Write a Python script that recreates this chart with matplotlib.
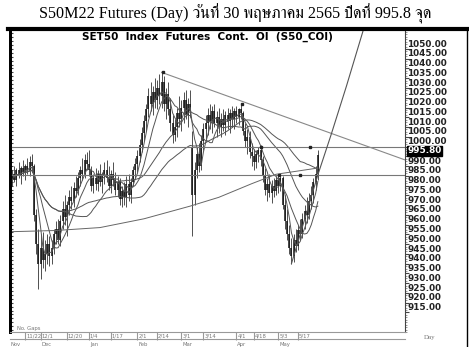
import matplotlib
matplotlib.use('Agg')
import matplotlib.pyplot as plt
from matplotlib import font_manager
from matplotlib.ft2font import FT2Font
from matplotlib.lines import Line2D
import numpy as np
import pandas as pd

# daily bars, S50 continuous futures, Nov 2021 - 30 May 2022
opens = [984, 986, 983, 988, 985, 989, 987, 990, 988, 992,
         990, 965, 950, 940, 948, 942, 945, 950, 944, 948,
         955, 958, 952, 962, 968, 964, 970, 974, 972, 979,
         977, 984, 988, 986, 993, 991, 988, 980, 984, 981,
         986, 982, 985, 988, 984, 980, 986, 983, 978, 982,
         973, 977, 974, 981, 975, 982, 988, 991, 995, 1001,
         1007, 1013, 1019, 1026, 1022, 1028, 1024, 1030, 1026, 1033,
         1022, 1027, 1019, 1012, 1006, 1010, 1017, 1014, 1020, 1024,
         1016, 1022, 1000, 975, 988, 996, 990, 1003, 1009, 1012,
         1016, 1013, 1018, 1012, 1015, 1010, 1014, 1011, 1016, 1013,
         1017, 1014, 1018, 1015, 1019, 1017, 1008, 1003, 1005, 997,
         995, 992, 996, 998, 993, 985, 978, 981, 976, 980,
         977, 983, 980, 984, 970, 962, 955, 948, 944, 952,
         949, 957, 955, 963, 967, 965, 972, 975, 982, 986]
highs = [988, 990, 989, 992, 990, 993, 991, 994, 995, 996,
         991, 968, 958, 955, 956, 952, 955, 954, 952, 958,
         962, 963, 965, 972, 975, 972, 978, 980, 982, 985,
         987, 990, 994, 996, 997, 998, 990, 986, 989, 988,
         991, 987, 992, 993, 990, 988, 992, 987, 985, 984,
         980, 982, 985, 986, 984, 990, 994, 998, 1004, 1010,
         1016, 1022, 1030, 1033, 1031, 1035, 1034, 1037, 1038, 1036,
         1030, 1033, 1025, 1016, 1014, 1020, 1026, 1024, 1028, 1029,
         1025, 1029, 1008, 992, 1000, 1002, 1006, 1012, 1016, 1020,
         1022, 1021, 1022, 1018, 1020, 1017, 1019, 1018, 1020, 1019,
         1021, 1020, 1021, 1020, 1022, 1018, 1012, 1009, 1008, 1002,
         999, 998, 1000, 1001, 995, 989, 984, 986, 983, 984,
         985, 986, 986, 985, 975, 968, 960, 953, 955, 958,
         960, 963, 966, 970, 974, 976, 980, 984, 990, 998]
lows = [980, 982, 980, 984, 981, 985, 983, 986, 985, 987,
        962, 945, 927, 932, 938, 936, 940, 939, 940, 945,
        950, 950, 949, 958, 960, 954, 965, 968, 969, 974,
        975, 980, 983, 984, 988, 985, 977, 976, 978, 977,
        980, 976, 981, 982, 978, 976, 980, 975, 974, 970,
        969, 970, 969, 972, 971, 980, 984, 987, 992, 997,
        1003, 1008, 1015, 1018, 1016, 1020, 1019, 1022, 1020, 1018,
        1014, 1016, 1008, 1002, 1003, 1005, 1010, 1008, 1012, 1014,
        1010, 1015, 954, 970, 984, 987, 988, 998, 1003, 1006,
        1009, 1007, 1010, 1005, 1007, 1005, 1008, 1006, 1009, 1007,
        1010, 1009, 1012, 1011, 1014, 1006, 1000, 996, 994, 990,
        988, 989, 992, 990, 982, 975, 972, 974, 971, 974,
        975, 976, 977, 968, 958, 952, 945, 940, 941, 946,
        947, 952, 953, 958, 961, 963, 968, 971, 978, 983]
closes = [986, 983, 988, 985, 989, 987, 990, 988, 992, 990,
          965, 950, 940, 948, 942, 945, 950, 944, 948, 955,
          958, 952, 962, 968, 964, 970, 974, 972, 979, 977,
          984, 988, 986, 993, 991, 988, 980, 984, 981, 986,
          982, 985, 988, 984, 980, 986, 983, 978, 982, 973,
          977, 974, 981, 975, 982, 988, 991, 995, 1001, 1007,
          1013, 1019, 1026, 1022, 1028, 1024, 1030, 1026, 1033, 1022,
          1027, 1019, 1012, 1006, 1010, 1017, 1014, 1020, 1024, 1016,
          1022, 1018, 975, 988, 996, 990, 1003, 1009, 1012, 1016,
          1013, 1018, 1012, 1015, 1010, 1014, 1011, 1016, 1013, 1017,
          1014, 1018, 1015, 1019, 1017, 1008, 1003, 1005, 997, 995,
          992, 996, 998, 993, 985, 978, 981, 976, 980, 977,
          983, 980, 984, 970, 962, 955, 948, 944, 952, 949,
          957, 955, 963, 967, 965, 972, 975, 982, 986, 995.8]

# long moving average (needs history before the window)
long_ma_idx = [0, 20, 40, 60, 81, 94, 109, 120, 139]
long_ma_val = [956.4, 957, 958.5, 963, 969.5, 974, 981, 985.8, 989]

# drawn lines
trend_idx = [68, 179]
trend_val = [1038, 993]
curve_idx = [127, 139, 145, 152, 160]
curve_val = [940, 985.5, 1006, 1031, 1061]
hlines = [1000, 985.6]
dot_idx = [68.5, 104.5, 113, 121.4, 131, 135.5]
dot_val = [1038, 1022, 1000, 985.6, 985.6, 1000]

date_idx = [6, 13, 25, 35, 45, 57, 66, 77, 87, 102, 110, 121, 130]
date_lbl = ['11/22', '12/1', '12/20', '1/4', '1/17', '2/1', '2/14', '3/1',
            '3/14', '4/1', '4/18', '5/3', '5/17']
month_idx = [-1, 13, 35, 57, 77, 102, 121]
month_lbl = ['Nov', 'Dec', 'Jan', 'Feb', 'Mar', 'Apr', 'May']
ytick_vals = list(range(915, 1051, 5))
last_close = 995.8


def find_thai_font():
    found = []
    for f in font_manager.fontManager.ttflist:
        try:
            if 0x0E27 in FT2Font(f.fname).get_charmap():
                found.append(f.name)
        except Exception:
            pass
    serif = [n for n in found if 'Serif' in n]
    return (serif + found)[:1]


W, H = 469, 347
fig = plt.figure(figsize=(W / 100, H / 100), dpi=100)
ax = fig.add_axes([10 / W, 1 - 332 / H, 395 / W, 301 / H])

idx = np.arange(len(closes))
o = np.array(opens)
c = np.array(closes)
ax.vlines(idx, lows, highs, color='#333333', lw=0.6)
ax.vlines(idx, np.minimum(o, c), np.maximum(o, c), color='#111111', lw=1.1)

s = pd.Series(closes)
for w in [5, 10, 25, 50]:
    ax.plot(idx, s.rolling(w, min_periods=1).mean(), color='#555555', lw=0.7)
ax.plot(long_ma_idx, long_ma_val, color='#666666', lw=0.7)

for h in hlines:
    ax.axhline(h, color='#777777', lw=0.8)
ax.plot(trend_idx, trend_val, color='#888888', lw=0.8)
ax.plot(curve_idx, curve_val, color='#555555', lw=0.8)
ax.plot(dot_idx, dot_val, 's', color='#222222', ms=2)

ax.set_xlim(-0.9, 178.6)
ax.set_ylim(905.3, 1059.2)

# right price scale (labels sit a little above their ticks, as in the source)
ax.yaxis.tick_right()
ax.set_yticks(ytick_vals)
ax.set_yticklabels([])
ax.set_yticks(np.arange(905, 1060, 1.25), minor=True)
ax.tick_params(axis='y', which='major', direction='out', length=3, color='#444444')
ax.tick_params(axis='y', which='minor', direction='out', length=1.5, color='#888888')
ytr = ax.get_yaxis_transform()
for v in ytick_vals:
    if v == 995:
        continue
    ax.text(1.006, v + 2.5, f'{v:.2f}', transform=ytr, ha='left', va='center',
            fontsize=6.4, fontweight='bold', family='DejaVu Sans', color='#222222')
ax.text(1.006, last_close + 2.0, f'{last_close:.2f}', transform=ytr, ha='left', va='center',
        fontsize=6.4, fontweight='bold', family='DejaVu Sans', color='white',
        bbox=dict(boxstyle='square,pad=0.02', fc='black', ec='black'))

# left scale ticks
lax = ax.secondary_yaxis('left')
lax.set_yticks(np.arange(906, 1060, 2))
lax.set_yticklabels([])
lax.tick_params(direction='in', length=2.5, color='#444444')
lax.spines['left'].set_linewidth(2)

# date row
ax.set_xticks(date_idx)
ax.set_xticklabels([])
ax.tick_params(axis='x', direction='out', length=6, color='#999999')
xtr = ax.get_xaxis_transform()
for i, lbl in zip(date_idx, date_lbl):
    ax.text(i + 0.4, -0.004, lbl, transform=xtr, ha='left', va='top',
            fontsize=3.8, color='#777777')
for i, lbl in zip(month_idx, month_lbl):
    ax.text(i + 0.4, -0.033, lbl, transform=xtr, ha='left', va='top',
            fontsize=3.8, color='#777777')
ax.text(7 / 395, 0.006, 'No. Gaps', transform=ax.transAxes, fontsize=3.8, color='#777777')

for sp in ['top', 'bottom']:
    ax.spines[sp].set_visible(False)
ax.spines['left'].set_linewidth(2)
ax.spines['right'].set_color('#444444')
ax.spines['right'].set_linewidth(0.8)
fig.add_artist(Line2D([10 / W, 405 / W], [1 - 332 / H] * 2, color='#999999', lw=0.8))
fig.add_artist(Line2D([10 / W, 405 / W], [1 - 339 / H] * 2, color='#999999', lw=0.8))

# frame
fig.add_artist(Line2D([8 / W, 468 / W], [1 - 29 / H] * 2, color='black', lw=3))
fig.add_artist(Line2D([467 / W] * 2, [1 - 29 / H, 0], color='black', lw=1))

ax.text(0.5, 0.998, 'SET50  Index  Futures  Cont.  OI  (S50_COI)', transform=ax.transAxes,
        ha='center', va='top', fontsize=7.5, fontweight='bold', family='DejaVu Sans')
fig.text(430 / W, 1 - 337 / H, 'Day', ha='center', va='center', fontsize=5,
         family='Liberation Serif', color='#777777')

title_fonts = ['Liberation Serif'] + find_thai_font() + ['DejaVu Sans']
fig.text(235 / W, 1 - 14 / H, 'S50M22 Futures (Day) วันที่ 30 พฤษภาคม 2565 ปิดที่ 995.8 จุด',
         ha='center', va='center', fontsize=11.6, family=title_fonts)

fig.savefig('out.png', dpi=100)
